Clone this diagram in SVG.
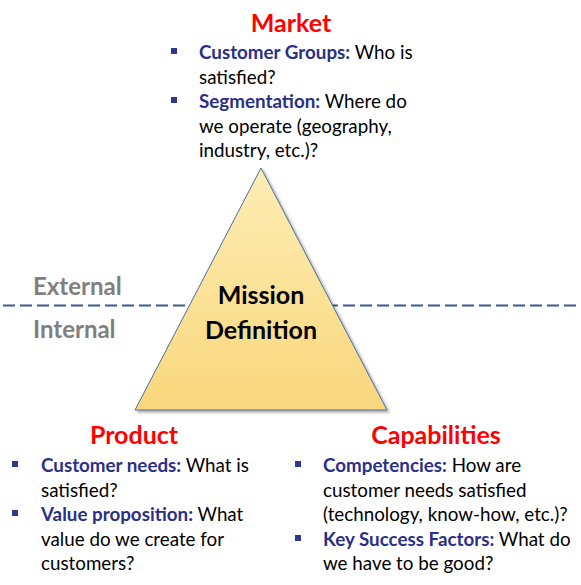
<svg xmlns="http://www.w3.org/2000/svg" width="581" height="585" viewBox="0 0 581 585">
<style>
text{font-family:Lato,"Open Sans","Liberation Sans",sans-serif}
.title{font-size:25px;font-weight:bold;fill:#FF0000;text-anchor:middle}
.body{font-size:18.8px;fill:#000}
.lbl{font-weight:bold;fill:#2B3087}
.zone{font-size:24px;font-weight:bold;fill:#7F7F7F}
.mission{font-size:25px;font-weight:bold;fill:#000;text-anchor:middle}
.bullet{fill:#2B3A8F}
</style>
<defs>
<linearGradient id="tri" x1="0" y1="0" x2="0" y2="1">
<stop offset="0" stop-color="#FDEDB4"/>
<stop offset="1" stop-color="#F9D77C"/>
</linearGradient>
<filter id="sh" x="-10%" y="-10%" width="130%" height="130%">
<feGaussianBlur in="SourceAlpha" stdDeviation="1.5"/>
<feOffset dx="1.5" dy="2"/>
<feComponentTransfer><feFuncA type="linear" slope="0.35"/></feComponentTransfer>
<feMerge><feMergeNode/><feMergeNode in="SourceGraphic"/></feMerge>
</filter>
</defs>
<g id="connectors">
<line x1="3" y1="305.5" x2="581" y2="305.5" stroke="#3C5A8C" stroke-width="2" stroke-dasharray="12,5"/>
</g>
<g id="zones">
<text class="zone" x="33" y="295">External</text>
<text class="zone" x="33" y="338">Internal</text>
</g>
<g id="mission">
<polygon points="261,168 135,410 387,410" fill="url(#tri)" stroke="#4F6E9C" stroke-width="1" filter="url(#sh)"/>
<text class="mission" x="261" y="304">Mission</text>
<text class="mission" x="261" y="339">Definition</text>
</g>
<g id="market">
<text class="title" x="291" y="32">Market</text>
<rect class="bullet" x="171" y="48" width="6" height="6"/>
<rect class="bullet" x="171" y="97" width="6" height="6"/>
<text class="body" x="199"><tspan y="59"><tspan class="lbl">Customer Groups:</tspan> Who is</tspan><tspan x="199" y="84">satisfied?</tspan><tspan x="199" y="108"><tspan class="lbl">Segmentation:</tspan> Where do</tspan><tspan x="199" y="133">we operate (geography,</tspan><tspan x="199" y="157">industry, etc.)?</tspan></text>
</g>
<g id="product">
<text class="title" x="134" y="444">Product</text>
<rect class="bullet" x="12" y="461" width="6" height="6"/>
<rect class="bullet" x="12" y="510" width="6" height="6"/>
<text class="body" x="41"><tspan y="472"><tspan class="lbl">Customer needs:</tspan> What is</tspan><tspan x="41" y="497">satisfied?</tspan><tspan x="41" y="521"><tspan class="lbl">Value proposition:</tspan> What</tspan><tspan x="41" y="546">value do we create for</tspan><tspan x="41" y="570">customers?</tspan></text>
</g>
<g id="capabilities">
<text class="title" x="436" y="444">Capabilities</text>
<rect class="bullet" x="295" y="461" width="6" height="6"/>
<rect class="bullet" x="295" y="535" width="6" height="6"/>
<text class="body" x="323"><tspan y="472"><tspan class="lbl">Competencies:</tspan> How are</tspan><tspan x="323" y="497">customer needs satisfied</tspan><tspan x="323" y="521">(technology, know-how, etc.)?</tspan><tspan x="323" y="546"><tspan class="lbl">Key Success Factors:</tspan> What do</tspan><tspan x="323" y="570">we have to be good?</tspan></text>
</g>
</svg>
